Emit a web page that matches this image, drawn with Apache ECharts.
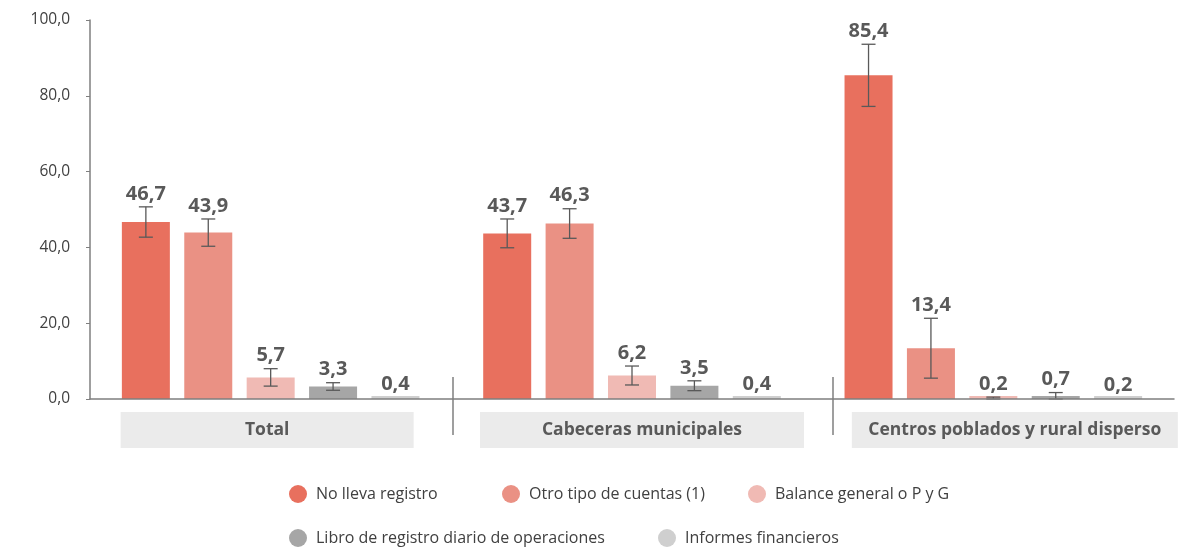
<!DOCTYPE html>
<html>
<head>
<meta charset="utf-8">
<script src="https://cdn.jsdelivr.net/npm/echarts@6/dist/echarts.min.js"></script>
<style>
  html, body { margin: 0; padding: 0; background: #fff; }
  #chart { width: 1186px; height: 551px; }
</style>
</head>
<body>
<div id="chart"></div>
<script>
  // categorías y series
  const categories = ['Total', 'Cabeceras municipales', 'Centros poblados y rural disperso'];
  const seriesNames = [
    'No lleva registro',
    'Otro tipo de cuentas (1)',
    'Balance general o P y G',
    'Libro de registro diario de operaciones',
    'Informes financieros',
  ];
  const noLlevaRegistro = [46.7, 43.7, 85.4];
  const otroTipoCuentas = [43.9, 46.3, 13.4];
  const balanceGeneral = [5.7, 6.2, 0.2];
  const libroRegistro = [3.3, 3.5, 0.7];
  const informesFinancieros = [0.4, 0.4, 0.2];
  // margen de error (+/-)
  const noLlevaRegistroErr = [4.0, 3.8, 8.2];
  const otroTipoCuentasErr = [3.6, 3.9, 7.9];
  const balanceGeneralErr = [2.3, 2.5, 0.3];
  const libroRegistroErr = [1.0, 1.3, 1.0];
  const informesFinancierosErr = [0, 0, 0];
  const yTicks = [0, 20, 40, 60, 80, 100];

  const values = [noLlevaRegistro, otroTipoCuentas, balanceGeneral, libroRegistro, informesFinancieros];
  const errors = [noLlevaRegistroErr, otroTipoCuentasErr, balanceGeneralErr, libroRegistroErr, informesFinancierosErr];
  const colors = ['#e8705e', '#ea9184', '#f0bab4', '#a6a6a6', '#cfcfcf'];

  const BAR_W = 48;
  const BAR_STEP = 62.4;
  const fmt = (v) => v.toFixed(1).replace('.', ',');
  const font = '"Open Sans", Lato, sans-serif';

  const chart = echarts.init(document.getElementById('chart'));

  const barSeries = values.map((data, i) => ({
    name: seriesNames[i],
    type: 'bar',
    data: data,
    barWidth: BAR_W,
    barGap: '30%',
    barMinHeight: 3,
    itemStyle: { color: colors[i] },
    silent: true,
  }));

  const errSeries = values.map((data, i) => ({
    type: 'custom',
    silent: true,
    z: 5,
    data: data.map((v, k) => [k, v, errors[i][k]]),
    renderItem: function (params, api) {
      const k = api.value(0);
      const v = api.value(1);
      const e = api.value(2);
      const dx = (i - 2) * BAR_STEP;
      const top = api.coord([k, v + e]);
      const bot = api.coord([k, Math.max(0, v - e)]);
      const x = top[0] + dx;
      const children = [];
      const line = { stroke: '#595959', lineWidth: 1.3 };
      if (e > 0) {
        children.push(
          { type: 'line', shape: { x1: x, y1: top[1], x2: x, y2: bot[1] }, style: line },
          { type: 'line', shape: { x1: x - 7, y1: top[1], x2: x + 7, y2: top[1] }, style: line },
          { type: 'line', shape: { x1: x - 7, y1: bot[1], x2: x + 7, y2: bot[1] }, style: line }
        );
      }
      children.push({
        type: 'text',
        style: {
          text: fmt(v),
          x: x,
          y: top[1] - 3,
          textAlign: 'center',
          textVerticalAlign: 'bottom',
          fill: '#595959',
          font: 'bold 20px ' + font,
        },
      });
      return { type: 'group', children: children };
    },
  }));

  const catStyle = { height: 36, lineHeight: 36, align: 'center', backgroundColor: '#ebebeb', fontWeight: 'bold', fontSize: 17.5, color: '#595959' };

  // una leyenda por elemento para fijar la posición de cada uno
  const legendPos = [[289, 485], [502, 485], [748, 485], [289, 529], [658, 529]];
  const legends = seriesNames.map((name, i) => ({
    data: [name],
    left: legendPos[i][0],
    top: legendPos[i][1],
    padding: 0,
    icon: 'circle',
    itemWidth: 18,
    itemHeight: 18,
    textStyle: { fontSize: 16, color: '#404040', padding: [0, 0, 0, 4] },
  }));

  const option = {
    animation: false,
    color: colors,
    textStyle: { fontFamily: font },
    grid: { left: 90, right: 12, top: 20, bottom: 152, outerBoundsMode: 'none' },
    legend: legends,
    xAxis: {
      type: 'category',
      data: categories,
      z: 10,
      axisLine: { lineStyle: { color: '#7f7f7f', width: 1.5 } },
      axisTick: { show: false },
      axisLabel: {
        margin: 13,
        interval: 0,
        formatter: function (v, i) {
          if (i === 0) return '{c0|' + v + '}{s0| }';
          if (i === 1) return '{s1| }{c1|' + v + '}';
          return '{s2| }{c2|' + v + '}';
        },
        rich: {
          c0: Object.assign({ width: 293 }, catStyle),
          c1: Object.assign({ width: 324 }, catStyle),
          c2: Object.assign({ width: 326 }, catStyle),
          s0: { width: 7, height: 36 },
          s1: { width: 20, height: 36 },
          s2: { width: 43, height: 36 },
        },
      },
    },
    yAxis: {
      type: 'value',
      min: yTicks[0],
      max: yTicks[yTicks.length - 1],
      interval: 20,
      splitLine: { show: false },
      axisLine: { show: true, lineStyle: { color: '#7f7f7f', width: 1.5 } },
      axisTick: { show: true, length: 4, lineStyle: { color: '#7f7f7f' } },
      axisLabel: { margin: 20, fontSize: 15.5, color: '#404040', formatter: fmt },
    },
    graphic: [
      { type: 'line', shape: { x1: 453, y1: 377, x2: 453, y2: 435 }, style: { stroke: '#7f7f7f', lineWidth: 1.5 } },
      { type: 'line', shape: { x1: 833, y1: 377, x2: 833, y2: 435 }, style: { stroke: '#7f7f7f', lineWidth: 1.5 } },
    ],
    series: barSeries.concat(errSeries),
  };

  chart.setOption(option);
</script>
</body>
</html>
